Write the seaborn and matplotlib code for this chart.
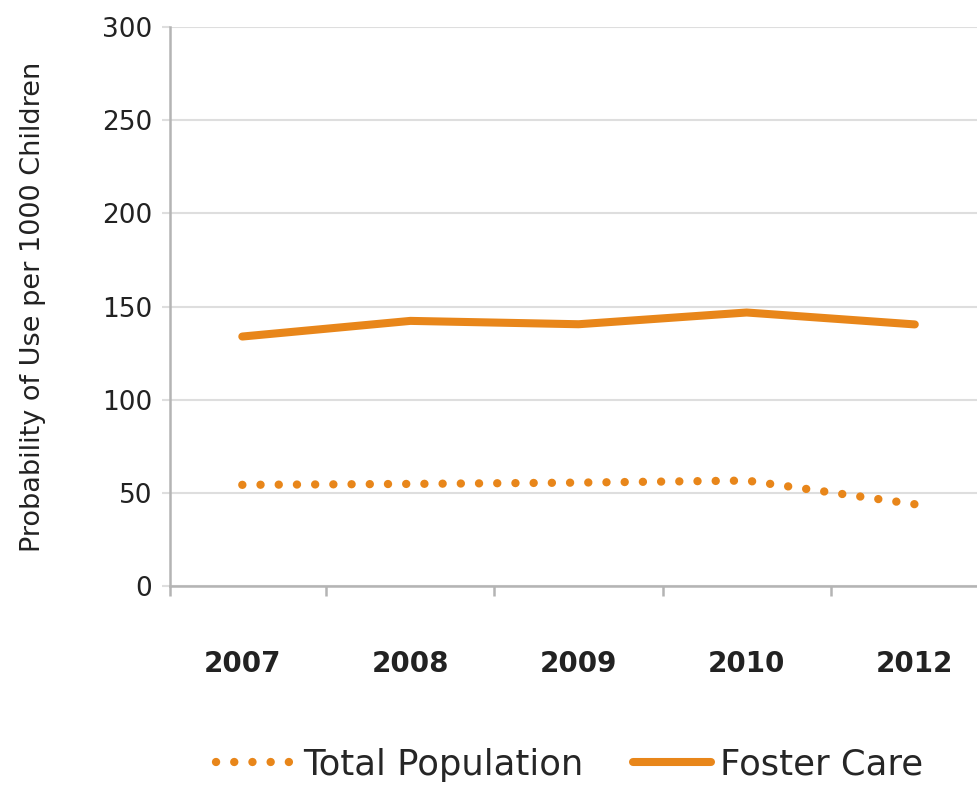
import numpy as np
import pandas as pd
import seaborn as sns
import matplotlib.pyplot as plt

# values (per 1000 children)
years = ['2007', '2008', '2009', '2010', '2012']
total_population = [54.3, 54.8, 55.5, 56.6, 43.9]
foster_care = [133.9, 142.3, 140.5, 146.8, 140.4]
y_ticks = [0, 50, 100, 150, 200, 250, 300]

orange = '#E8861A'
axis_grey = '#b4b4b4'
grid_grey = '#dedede'

sns.set_style('white')
plt.rcParams['font.family'] = ['DejaVu Sans']

df = pd.DataFrame({
    'pos': np.arange(len(years)),
    'Total Population': total_population,
    'Foster Care': foster_care,
})

fig = plt.figure(figsize=(9.77, 7.85), dpi=100)
ax = fig.add_axes([0.174, 0.2535, 0.826, 0.712])

sns.lineplot(data=df, x='pos', y='Total Population', ax=ax, color=orange,
             linewidth=6, linestyle=(0, (0.01, 2.175)), dash_capstyle='round',
             label='Total Population')
sns.lineplot(data=df, x='pos', y='Foster Care', ax=ax, color=orange,
             linewidth=5.8, solid_capstyle='round', label='Foster Care')

left, right = -0.43, 4.37
ax.set_ylim(0, 300)
ax.set_xlim(left, right)
ax.set_yticks(y_ticks)
ax.set_yticklabels([str(v) for v in y_ticks], fontsize=19, color='#222222')
ax.yaxis.grid(True, color=grid_grey, linewidth=1.5)
ax.set_axisbelow(True)

ax.set_xticks(df['pos'])
ax.set_xticklabels(years, fontsize=20, fontweight='bold', color='#222222')
ax.set_xticks([left, 0.5, 1.5, 2.5, 3.5], minor=True)
ax.tick_params(axis='x', which='major', bottom=True, length=0, pad=46)
ax.tick_params(axis='x', which='minor', bottom=True, length=7, width=1.8,
               color=axis_grey)
ax.tick_params(axis='y', left=True, length=6, width=1.5, color=grid_grey, pad=7)

ax.set_xlabel('')
ax.set_ylabel('Probability of Use per 1000 Children', fontsize=19.5,
              color='#222222', labelpad=40)

for side in ['top', 'right']:
    ax.spines[side].set_visible(False)
for side in ['left', 'bottom']:
    ax.spines[side].set_color(axis_grey)
    ax.spines[side].set_linewidth(1.8)

handles, labels = ax.get_legend_handles_labels()
ax.get_legend().remove()
fig.legend(handles, labels, loc='center', bbox_to_anchor=(0.583, 0.026),
           ncol=2, frameon=False, fontsize=25.5, handlelength=2.2,
           handletextpad=0.25, columnspacing=1.4)

fig.savefig('out.png', dpi=100)
